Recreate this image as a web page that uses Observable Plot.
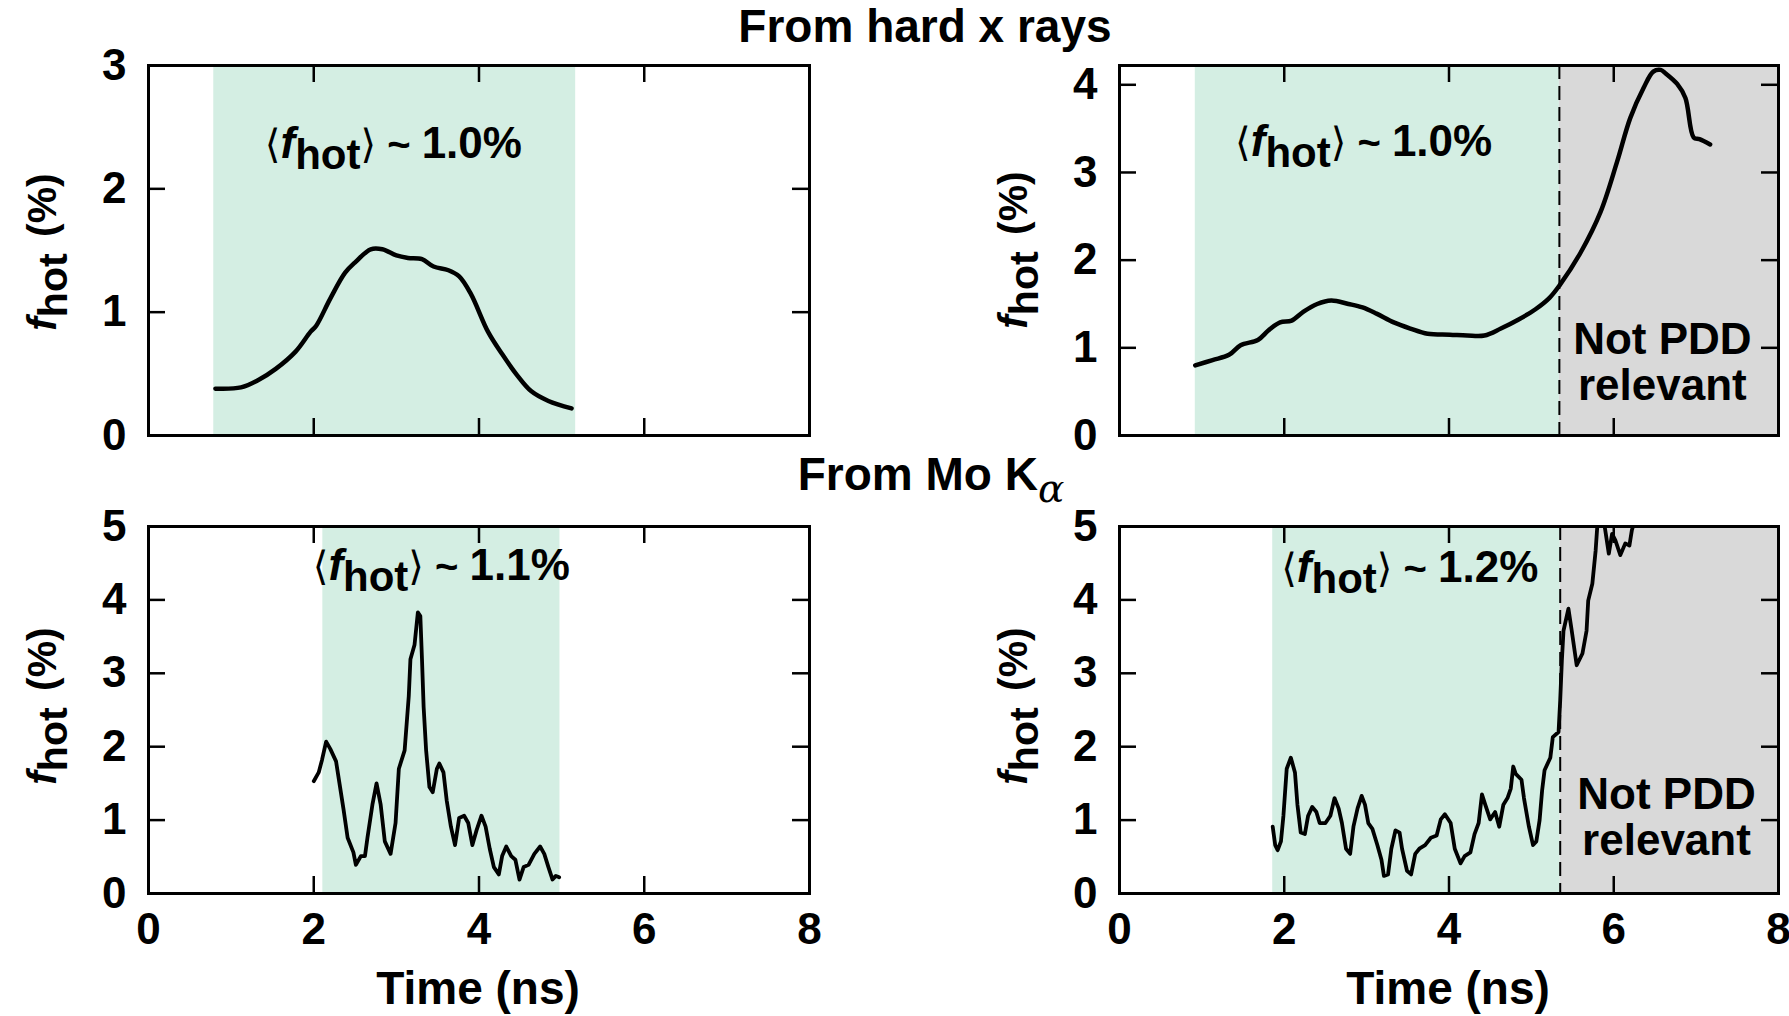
<!DOCTYPE html>
<html><head><meta charset="utf-8">
<script src="https://cdn.jsdelivr.net/npm/d3@7"></script>
<script src="https://cdn.jsdelivr.net/npm/@observablehq/plot@0.6"></script>
<style>
html,body{margin:0;padding:0;background:#fff;}
#root{position:relative;width:1789px;height:1016px;overflow:hidden;font-family:"Liberation Sans",Arial,Helvetica,sans-serif;font-weight:bold;color:#000;}
.lbl{position:absolute;white-space:nowrap;line-height:1;transform:translateX(-50%);}
.ylab{position:absolute;white-space:nowrap;line-height:1;font-size:41px;transform:translate(-50%,-50%) rotate(-90deg);}
.plot{position:absolute;}
</style></head><body><div id="root"></div>
<script>
// ---------- data ----------
const xTicks = [0, 2, 4, 6, 8];
const yTicksHxA = [0, 1, 2, 3];
const yTicksHxB = [0, 1, 2, 3, 4];
const yTicksMo = [0, 1, 2, 3, 4, 5];

// Hard x rays, left shot
const timeHxA = [0.81,1.12,1.33,1.54,1.78,1.96,2.03,2.20,2.38,2.51,2.69,2.83,3.00,3.14,3.31,3.45,3.63,3.76,3.90,4.11,4.28,4.46,4.63,4.84,5.12];
const fhotHxA = [0.38,0.39,0.45,0.54,0.68,0.84,0.89,1.11,1.32,1.41,1.51,1.51,1.46,1.44,1.43,1.37,1.34,1.29,1.15,0.84,0.66,0.49,0.36,0.28,0.22];
// Hard x rays, right shot
const timeHxB = [0.92,1.13,1.33,1.47,1.68,1.81,1.95,2.09,2.23,2.40,2.57,2.78,2.95,3.12,3.33,3.53,3.74,4.01,4.22,4.43,4.63,4.84,5.05,5.22,5.34,5.60,5.84,6.04,6.20,6.36,6.48,6.57,6.63,6.77,6.87,6.97,7.04,7.17];
const fhotHxB = [0.80,0.86,0.92,1.03,1.09,1.20,1.29,1.31,1.41,1.50,1.54,1.50,1.46,1.39,1.29,1.22,1.16,1.15,1.14,1.14,1.22,1.32,1.44,1.57,1.71,2.09,2.55,3.12,3.62,3.96,4.15,4.17,4.13,4.01,3.85,3.40,3.38,3.32];
// Mo K-alpha, left shot
const timeMoA = [2.00,2.06,2.10,2.15,2.20,2.27,2.31,2.36,2.41,2.48,2.51,2.57,2.62,2.65,2.71,2.76,2.81,2.86,2.93,2.99,3.03,3.10,3.15,3.17,3.22,3.26,3.29,3.31,3.33,3.36,3.40,3.44,3.49,3.52,3.57,3.61,3.66,3.71,3.76,3.82,3.87,3.92,3.97,4.03,4.08,4.13,4.18,4.24,4.28,4.33,4.39,4.44,4.49,4.54,4.60,4.67,4.74,4.79,4.84,4.89,4.93,4.97];
const fhotMoA = [1.53,1.65,1.82,2.07,1.97,1.80,1.51,1.15,0.76,0.56,0.39,0.51,0.51,0.76,1.21,1.50,1.21,0.71,0.54,0.96,1.70,1.95,2.69,3.19,3.39,3.83,3.78,3.19,2.54,1.95,1.45,1.38,1.70,1.77,1.65,1.26,0.91,0.66,1.03,1.06,0.96,0.66,0.86,1.06,0.91,0.61,0.36,0.26,0.51,0.64,0.51,0.46,0.19,0.36,0.39,0.54,0.64,0.54,0.36,0.19,0.24,0.22];
// Mo K-alpha, right shot
const timeMoB = [1.86,1.89,1.92,1.96,1.99,2.03,2.08,2.13,2.16,2.20,2.25,2.29,2.34,2.39,2.43,2.50,2.56,2.61,2.66,2.70,2.75,2.80,2.84,2.89,2.94,2.98,3.02,3.07,3.13,3.18,3.21,3.26,3.30,3.35,3.40,3.43,3.49,3.54,3.59,3.64,3.71,3.78,3.85,3.90,3.95,4.02,4.07,4.14,4.19,4.26,4.31,4.36,4.40,4.44,4.50,4.56,4.61,4.66,4.71,4.75,4.78,4.81,4.88,4.91,4.97,5.02,5.06,5.10,5.13,5.16,5.23,5.26,5.33,5.35,5.37,5.39,5.45,5.49,5.55,5.62,5.67,5.69,5.74,5.78,5.80,5.84,5.89,5.94,5.98,6.02,6.08,6.14,6.19,6.22,6.26];
const fhotMoB = [0.91,0.66,0.59,0.71,1.06,1.70,1.85,1.65,1.21,0.83,0.81,1.06,1.18,1.11,0.96,0.96,1.06,1.30,1.16,0.96,0.61,0.54,0.91,1.16,1.33,1.21,0.96,0.88,0.66,0.46,0.24,0.26,0.61,0.86,0.83,0.61,0.31,0.26,0.54,0.61,0.66,0.76,0.79,1.01,1.08,0.96,0.61,0.41,0.51,0.56,0.81,0.96,1.35,1.21,1.01,1.11,0.91,1.21,1.30,1.43,1.73,1.63,1.55,1.30,0.91,0.66,0.71,1.00,1.40,1.68,1.85,2.13,2.20,2.63,3.17,3.58,3.88,3.58,3.11,3.27,3.58,3.99,4.22,4.67,5.00,5.30,5.00,4.63,4.90,4.81,4.61,4.77,4.74,4.95,5.10];

// shaded time windows (ns)
const pddWindowHxA = [[0.79, 5.17]];
const pddWindowHxB = [[0.92, 5.34]];
const pddWindowMoA = [[2.11, 4.98]];
const pddWindowMoB = [[1.86, 5.35]];
const notPddHxB = [[5.34, 8]];
const notPddMoB = [[5.35, 8]];
const pddLimitHxB = [5.34];
const pddLimitMoB = [5.35];

const meanLabels = ["1.0%", "1.0%", "1.1%", "1.2%"];
const notPddText = "Not PDD\nrelevant";

// ---------- rendering ----------
const FONT = '"Liberation Sans", Arial, Helvetica, sans-serif';
const GREEN = "#d4eee3";
const GRAY = "#d9d9d9";
const root = document.getElementById("root");

function panel(o) {
  const plotW = o.width - o.ml - o.mr;
  const plotH = o.height - o.mt - o.mb;
  const data = d3.zip(o.time, o.fhot).map(([t, f]) => ({t, f}));
  const inner = xTicks.filter(v => v > 0 && v < 8);
  const innerY = o.yTicks.filter(v => v > 0 && v < o.yMax);
  const marks = [
    Plot.rect(o.green, {x1: d => d[0], x2: d => d[1], fill: GREEN}),
  ];
  if (o.gray) marks.push(Plot.rect(o.gray, {x1: d => d[0], x2: d => d[1], fill: GRAY}));
  if (o.dash) marks.push(Plot.ruleX(o.dash, {stroke: "#000", strokeWidth: 2, strokeDasharray: "14,7"}));
  marks.push(
    Plot.tickY(innerY, {y: d => d, insetRight: plotW - 17, strokeWidth: 2.5}),
    Plot.tickY(innerY, {y: d => d, insetLeft: plotW - 17, strokeWidth: 2.5}),
    Plot.tickX(inner, {x: d => d, insetTop: plotH - 17, strokeWidth: 2.5}),
    Plot.tickX(inner, {x: d => d, insetBottom: plotH - 17, strokeWidth: 2.5}),
    Plot.line(data, {x: "t", y: "f", curve: o.curve, stroke: "#000", strokeWidth: o.sw, clip: true, strokeLinejoin: "round"}),
    Plot.frame({stroke: "#000", strokeWidth: 3}),
    Plot.axisY(o.yTicks, {tickSize: 0, tickPadding: 22, label: null, tickFormat: d3.format("d"), fontSize: 44, fontWeight: "bold"})
  );
  if (o.showX) marks.push(Plot.axisX(xTicks, {tickSize: 0, tickPadding: 19, label: null, tickFormat: d3.format("d"), fontSize: 44, fontWeight: "bold"}));
  if (o.notPdd) marks.push(Plot.text([notPddText], {x: o.notPdd[0], y: o.notPdd[1], text: d => d, lineAnchor: "bottom", lineHeight: 1.05, fontSize: 44, fontWeight: "bold"}));
  const chart = Plot.plot({
    width: o.width, height: o.height,
    marginTop: o.mt, marginRight: o.mr, marginBottom: o.mb, marginLeft: o.ml,
    x: {domain: [0, 8], axis: null},
    y: {domain: [0, o.yMax], axis: null},
    style: {fontFamily: FONT, fontWeight: "bold", fontSize: "44px", background: "transparent", overflow: "visible", color: "#000"},
    marks
  });
  // rich annotation ⟨f_hot⟩ ~ x.x%
  const sx = chart.scale("x"), sy = chart.scale("y");
  const t = d3.select(chart).append("text")
    .attr("x", sx.apply(o.ann[0])).attr("y", sy.apply(o.ann[1]))
    .attr("text-anchor", "middle").attr("font-size", 44).attr("font-weight", "bold")
    .attr("font-family", FONT).attr("fill", "#000");
  t.append("tspan").attr("font-weight", "normal").attr("font-family", '"DejaVu Sans", sans-serif').attr("font-size", 40).text("\u27E8");
  t.append("tspan").attr("font-style", "italic").text("f");
  t.append("tspan").attr("dy", 11).attr("font-size", 42).text("hot");
  t.append("tspan").attr("dy", -11).attr("font-weight", "normal").attr("font-family", '"DejaVu Sans", sans-serif').attr("font-size", 40).text("\u27E9");
  t.append("tspan").attr("font-size", 40).text(" ~ ");
  t.append("tspan").text(o.label);
  chart.classList.add("plot");
  chart.style.left = o.left + "px";
  chart.style.top = o.top + "px";
  root.appendChild(chart);
}

panel({left: 0, top: 0, width: 900, height: 470, mt: 65, mr: 91, mb: 35, ml: 148,
  time: timeHxA, fhot: fhotHxA, yMax: 3, yTicks: yTicksHxA, green: pddWindowHxA,
  curve: "catmull-rom", sw: 4.5, ann: [2.97, 2.25], label: meanLabels[0], showX: false});
panel({left: 890, top: 0, width: 899, height: 470, mt: 65, mr: 11, mb: 35, ml: 229,
  time: timeHxB, fhot: fhotHxB, yMax: 4.22, yTicks: yTicksHxB, green: pddWindowHxB, gray: notPddHxB, dash: pddLimitHxB,
  curve: "catmull-rom", sw: 4.5, ann: [2.97, 3.18], label: meanLabels[1], showX: false, notPdd: [6.59, 0.40]});
panel({left: 0, top: 470, width: 900, height: 546, mt: 56, mr: 91, mb: 123, ml: 148,
  time: timeMoA, fhot: fhotMoA, yMax: 5, yTicks: yTicksMo, green: pddWindowMoA,
  curve: "linear", sw: 3.8, ann: [3.55, 4.26], label: meanLabels[2], showX: true});
panel({left: 890, top: 470, width: 899, height: 546, mt: 56, mr: 11, mb: 123, ml: 229,
  time: timeMoB, fhot: fhotMoB, yMax: 5, yTicks: yTicksMo, green: pddWindowMoB, gray: notPddMoB, dash: pddLimitMoB,
  curve: "linear", sw: 3.8, ann: [3.53, 4.24], label: meanLabels[3], showX: true, notPdd: [6.64, 0.52]});

// ---------- HTML labels ----------
function addLabel(html, cls, x, y, size) {
  const d = document.createElement("div");
  d.className = cls;
  d.innerHTML = html;
  d.style.left = x + "px";
  d.style.top = y + "px";
  if (size) d.style.fontSize = size + "px";
  root.appendChild(d);
}
const yLab = '<span style="font-style:italic">f</span><span style="position:relative;top:0.28em">hot</span><span style="margin-left:0.4em">(%)</span>';
addLabel(yLab, "ylab", 42, 252);
addLabel(yLab, "ylab", 1013, 250);
addLabel(yLab, "ylab", 42, 706);
addLabel(yLab, "ylab", 1013, 706);
addLabel("From hard x rays", "lbl", 925, 3, 46);
addLabel('From Mo K<span style="position:relative;top:0.3em;font-style:italic;font-weight:normal;font-family:\'DejaVu Serif\',serif;font-size:0.85em">\u03B1</span>', "lbl", 931, 451, 46);
addLabel("Time (ns)", "lbl", 478, 965, 46);
addLabel("Time (ns)", "lbl", 1448, 965, 46);
</script></body></html>
